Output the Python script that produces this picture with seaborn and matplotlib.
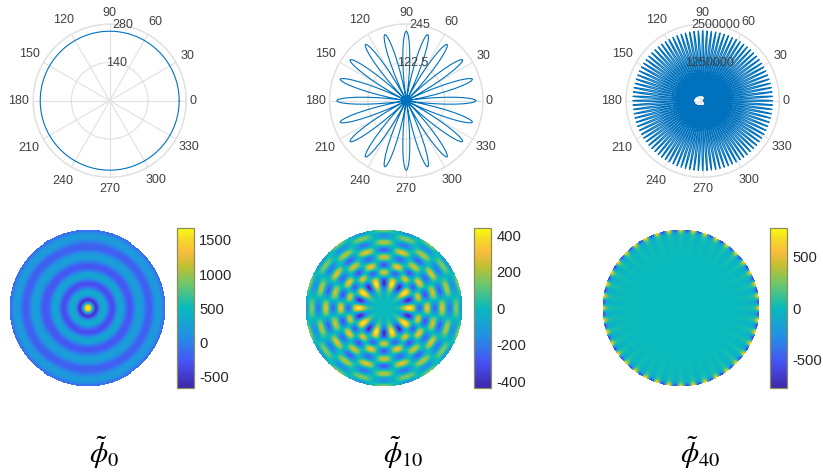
import matplotlib
matplotlib.use("Agg")
import matplotlib.pyplot as plt
from matplotlib.colors import LinearSegmentedColormap
import seaborn as sns
import numpy as np
import pandas as pd

# polar row: values
angle_ticks = [0, 30, 60, 90, 120, 150, 180, 210, 240, 270, 300, 330]
r_ticks_0 = [140, 280]
r_ticks_10 = [122.5, 245]
r_ticks_40 = [1250000, 2500000]
r_labels_0 = ["140", "280"]
r_labels_10 = ["122.5", "245"]
r_labels_40 = ["1250000", "2500000"]
peak_0 = 254
peak_10 = 222
peak_40 = 2280000
petals_10 = 20
petals_40 = 100
# half a petal, tip to trough, as a share of the peak
petal_half = [1.0, 0.98, 0.92, 0.83, 0.71, 0.57, 0.42, 0.27, 0.13, 0.0]
# inner edge of the spokes of the third plot, every 30 degrees
hole_angles = [0, 30, 60, 90, 120, 150, 180, 210, 240, 270, 300, 330, 360]
hole_edge = [30000, 50000, 146000, 163000, 188000, 260000, 305000,
             260000, 188000, 163000, 146000, 50000, 30000]

# disk row: radial profiles read along the horizontal radius
radii_0 = [0, .025, .05, .075, .10, .125, .15, .175, .20, .225, .25, .275, .30, .325,
           .35, .375, .40, .425, .45, .475, .50, .525, .55, .575, .60, .625, .65, .675,
           .70, .725, .75, .775, .80, .825, .85, .875, .90, .925, .95, .975, 1.0]
values_0 = [1560, 1480, 800, -100, -560, -400, 50, 300, 350, 280, 50, -200, -330, -340,
            -150, 100, 270, 300, 220, 30, -170, -270, -280, -180, -20, 130, 240, 250,
            160, 20, -130, -220, -230, -150, 0, 130, 210, 190, 90, -50, -170]
radii_10 = [0, .05, .10, .15, .20, .25, .29, .33, .37, .40, .43, .455, .48, .50, .525, .55,
            .575, .60, .625, .65, .675, .695, .72, .74, .765, .79, .815, .835, .86, .88,
            .90, .92, .94, .96, .98, 1.0]
values_10 = [0, 5, 10, 25, 70, 200, 380, 430, 300, 60, -200, -280, -190, 0, 230, 320,
             230, 0, -190, -260, -180, 0, 210, 300, 210, 0, -170, -230, -160, 0,
             120, 170, 120, 0, -120, -170]
radii_40 = [0, .70, .75, .85, .92, .95, .975, 1.0]
values_40 = [0, 0, 25, 30, 60, 160, 430, 760]
# a quarter wave round the circle, 0 to 90 degrees of the pattern
wave_quarter = [1.0, 0.985, 0.94, 0.866, 0.766, 0.643, 0.5, 0.342, 0.174, 0.0]
waves_0 = 0
waves_10 = 10
waves_40 = 40

cbar_range_0 = (-676, 1672)
cbar_range_10 = (-437, 437)
cbar_range_40 = (-775, 775)
cbar_ticks_0 = [-500, 0, 500, 1000, 1500]
cbar_ticks_10 = [-400, -200, 0, 200, 400]
cbar_ticks_40 = [-500, 0, 500]
captions = [r"$\tilde{\phi}_{0}$", r"$\tilde{\phi}_{10}$", r"$\tilde{\phi}_{40}$"]

W, H = 823, 473
LINE = "#0072BD"
GRID = "#e0e0e0"
TXT = "#404040"

sns.set_theme(style="white")
plt.rcParams["font.family"] = ["Liberation Sans", "DejaVu Sans"]
plt.rcParams["mathtext.fontset"] = "stix"
plt.rcParams["axes.unicode_minus"] = False

parula = LinearSegmentedColormap.from_list("parula", [
    (0.00, (0.2422, 0.1504, 0.6603)), (0.16, (0.2810, 0.3228, 0.9579)),
    (0.32, (0.1400, 0.5600, 0.9000)), (0.50, (0.0300, 0.7300, 0.7400)),
    (0.66, (0.4500, 0.7800, 0.4000)), (0.76, (0.7500, 0.7500, 0.2000)),
    (0.86, (0.9900, 0.7400, 0.2400)), (0.93, (0.9600, 0.8500, 0.1500)),
    (1.00, (0.9769, 0.9839, 0.0805))])


def px_axes(fig, x0, y0, x1, y1, **kw):
    return fig.add_axes([x0 / W, 1 - y1 / H, (x1 - x0) / W, (y1 - y0) / H], **kw)


def polar_panel(fig, cx, cy, rim, theta, r, r_ticks, r_labels):
    ax = px_axes(fig, cx - rim, cy - rim, cx + rim, cy + rim, projection="polar")
    sns.lineplot(x=theta, y=r, ax=ax, sort=False, estimator=None, color=LINE, linewidth=0.8)
    ax.set_xlabel("")
    ax.set_ylabel("")
    ax.set_ylim(0, r_ticks[-1])
    ax.set_thetagrids(angle_ticks, [""] * len(angle_ticks))
    ax.set_rgrids(r_ticks, [""] * len(r_ticks))
    ax.grid(True, color=GRID, linewidth=0.8)
    ax.spines["polar"].set_color(GRID)
    ax.spines["polar"].set_linewidth(1.0)
    # matlab keeps the r labels on the 80 degree line
    for val, lab in zip(r_ticks, r_labels):
        ax.text(np.deg2rad(80), val, lab, ha="center", va="center", color=TXT,
                fontsize=9, zorder=10, clip_on=False)
    gaps = [83, 89.5, 90.6, 87.3, 92.8, 93, 91, 93.7, 93, 88.6, 92, 92]
    for a, gap in zip(angle_ticks, gaps):
        t = np.deg2rad(a)
        ax.annotate(str(a), xy=(0.5, 0.5), xycoords="axes fraction",
                    xytext=(gap * np.cos(t), gap * np.sin(t)), textcoords="offset pixels",
                    ha="center", va="center", color=TXT, fontsize=9, annotation_clip=False)
    return ax


def petal_curve(petals, peak, floor_angles=None, floor_edge=None):
    one = np.array(petal_half + petal_half[-2:0:-1])
    shape = np.tile(one, petals)
    theta = np.linspace(0, 2 * np.pi, len(shape), endpoint=False)
    if floor_edge is None:
        r = peak * shape
    else:
        low = np.interp(np.rad2deg(theta), floor_angles, floor_edge)
        r = low + (peak - low) * shape
    return np.append(theta, 2 * np.pi), np.append(r, r[0])


def disk_panel(fig, cx, cy, radius, radii, values, waves, vrange, ticks, bar_x):
    ax = px_axes(fig, cx - radius, cy - radius, cx + radius, cy + radius)
    cax = px_axes(fig, bar_x, 228.3, bar_x + 16.5, 388)
    n = 2 * int(radius)
    g = np.linspace(-1, 1, n)
    xx, yy = np.meshgrid(g, g)
    rr = np.hypot(xx, yy)
    tt = np.arctan2(yy, xx)
    field = np.interp(rr, radii, values)
    if waves:
        q = np.array(wave_quarter)
        wave = np.concatenate([q, -q[-2::-1], -q[1:], q[-2::-1][:-1]])
        phase = np.linspace(0, 2 * np.pi, len(wave), endpoint=False)
        field = field * np.interp(np.mod(tt * waves, 2 * np.pi), phase, wave, period=2 * np.pi)
    sns.heatmap(pd.DataFrame(field), mask=rr > 1, cmap=parula, vmin=vrange[0], vmax=vrange[1],
                ax=ax, cbar_ax=cax, xticklabels=False, yticklabels=False,
                cbar_kws={"ticks": ticks})
    ax.set_xlabel("")
    ax.set_ylabel("")
    cb = ax.collections[0].colorbar
    cb.outline.set_linewidth(0.9)
    cb.outline.set_edgecolor("#8c8c60")
    cax.tick_params(direction="in", length=2, width=0.5, color="#555555", right=True,
                    labelsize=10.6, labelcolor="#262626", pad=4)
    return ax


fig = plt.figure(figsize=(W / 100, H / 100), dpi=100, facecolor="white")

theta_0 = np.deg2rad(np.arange(0, 361, 2))
r_0 = np.full_like(theta_0, peak_0, dtype=float)
polar_panel(fig, 109.7, 100.7, 76.6, theta_0, r_0, r_ticks_0, r_labels_0)
theta_10, r_10 = petal_curve(petals_10, peak_10)
polar_panel(fig, 406.3, 100.7, 76.8, theta_10, r_10, r_ticks_10, r_labels_10)
theta_40, r_40 = petal_curve(petals_40, peak_40, hole_angles, hole_edge)
polar_panel(fig, 702.7, 100.7, 76.7, theta_40, r_40, r_ticks_40, r_labels_40)

disk_panel(fig, 87.8, 308, 78.6, radii_0, values_0, waves_0, cbar_range_0, cbar_ticks_0, 177.3)
disk_panel(fig, 384.2, 308, 79, radii_10, values_10, waves_10, cbar_range_10, cbar_ticks_10, 474.4)
disk_panel(fig, 680.8, 308, 79, radii_40, values_40, waves_40, cbar_range_40, cbar_ticks_40, 770.4)

for x, cap in zip([89, 383, 680], captions):
    fig.text(x / W, 1 - 463 / H, cap, fontsize=21, color="black", ha="left", va="baseline")

plt.savefig("out.png", dpi=100)
plt.close()
